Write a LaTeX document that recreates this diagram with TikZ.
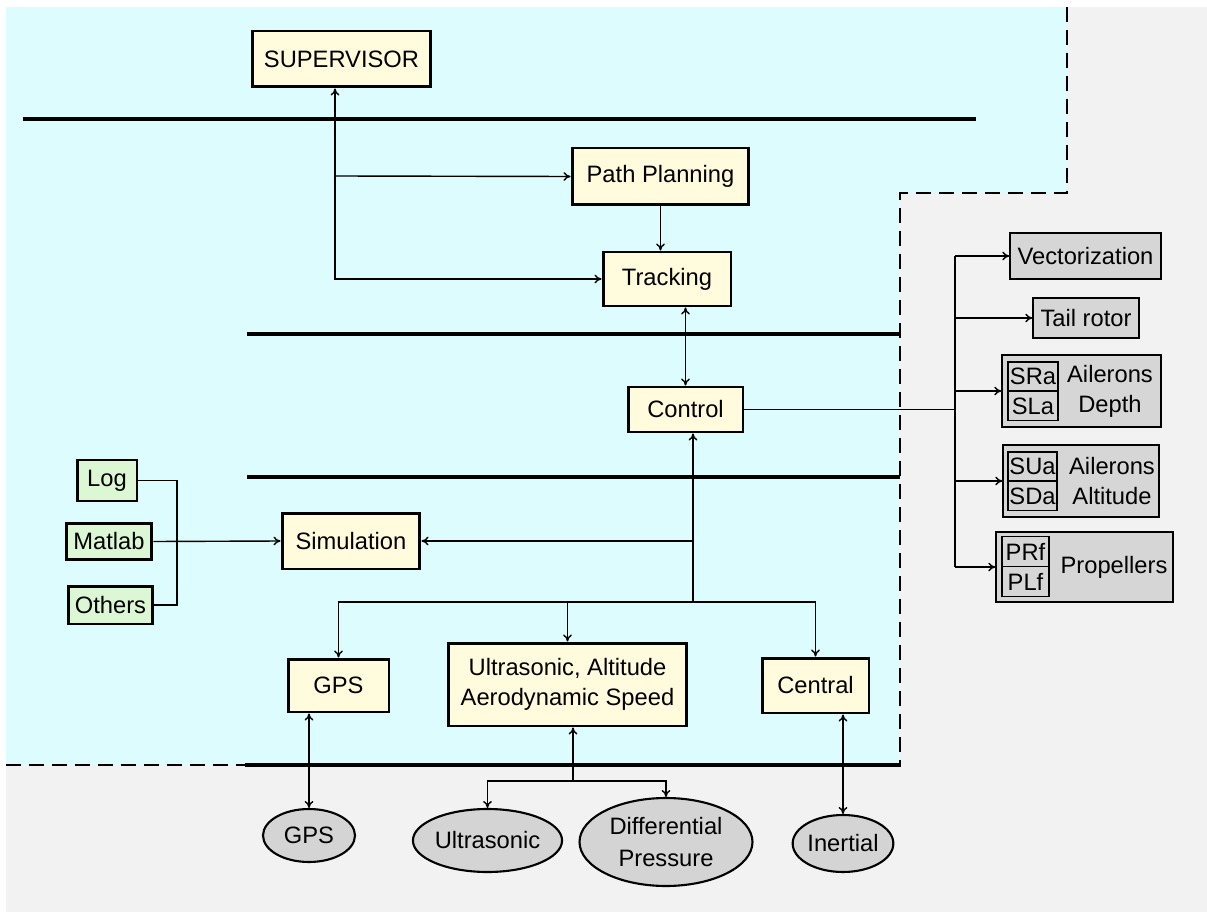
\documentclass[tikz,border=0pt]{standalone}
\usepackage{fontspec}
\setmainfont{Liberation Sans}
\usetikzlibrary{shapes.geometric, arrows.meta, calc}
\definecolor{skycyan}{RGB}{221,252,253}
\definecolor{outgray}{RGB}{242,242,242}
\definecolor{boxcream}{RGB}{255,251,220}
\definecolor{boxgreen}{RGB}{219,247,212}
\definecolor{actgray}{RGB}{214,214,214}
\definecolor{sensgray}{RGB}{212,212,212}

\begin{document}
\begin{tikzpicture}[
  x=0.02cm, y=-0.02cm,
  font=\fontsize{13.5}{17}\selectfont,
  >={To[length=4pt,width=5pt]},
  lay/.style={draw, line width=1.7pt, fill=boxcream, inner sep=0pt, align=center},
  ext/.style={draw, line width=1.7pt, fill=boxgreen, inner sep=0pt},
  act/.style={draw, line width=0.8pt, fill=actgray, inner sep=0pt},
  cell/.style={draw, line width=0.8pt, inner sep=0pt, minimum width=1cm, minimum height=0.58cm},
  sens/.style={ellipse, draw, line width=1.2pt, fill=sensgray, inner sep=0pt, align=center},
  bus/.style={line width=2.8pt},
  wire/.style={line width=0.8pt},
  zone/.style={dash pattern=on 0.3cm off 0.16cm, line width=1.1pt}
]
  \useasboundingbox (0,0) rectangle (1207,912);
  \fill[white] (0,0) rectangle (1207,912);
  \fill[outgray] (6,7) rectangle (1207,912);
  \fill[skycyan] (6,7) -- (1067,7) -- (1067,193) -- (900,193) -- (900,765) -- (6,765) -- cycle;
  \draw[zone] (1067,7) -- (1067,193) -- (900,193) -- (900,765);
  \draw[zone] (6,765) -- (245,765);

  \draw[bus] (23,119) -- (976,119);
  \draw[bus] (247,334) -- (900,334);
  \draw[bus] (247,477) -- (900,477);
  \draw[bus] (245,765) -- (901,765);

  \node[lay, minimum width=3.58cm, minimum height=1.12cm] (sup) at (341.5,59) {SUPERVISOR};
  \node[lay, minimum width=3.54cm, minimum height=1.14cm] (pp) at (660.5,176.5) {Path Planning};
  \node[lay, minimum width=2.56cm, minimum height=1.08cm] (track) at (667,279) {Tracking};
  \node[lay, minimum width=2.30cm, minimum height=0.90cm] (ctrl) at (685.5,409.5) {Control};
  \node[lay, minimum width=2.76cm, minimum height=1.12cm] (sim) at (351,541) {Simulation};
  \node[lay, minimum width=2.02cm, minimum height=1.06cm] (gpsbox) at (338.5,685.5) {GPS};
  \node[lay, minimum width=4.78cm, minimum height=1.66cm] (usbox) at (567.5,684.5) {Ultrasonic, Altitude\\Aerodynamic Speed};
  \node[lay, minimum width=2.14cm, minimum height=1.10cm] (central) at (815.5,685.5) {Central};

  \node[ext, minimum width=1.20cm, minimum height=0.82cm] (log) at (107,480.5) {Log};
  \node[ext, minimum width=1.72cm, minimum height=0.72cm] (matlab) at (109,541.5) {Matlab};
  \node[ext, minimum width=1.70cm, minimum height=0.76cm] (others) at (110.5,605) {Others};

  \node[act, minimum width=3.02cm, minimum height=0.92cm] (vec) at (1085.5,256) {Vectorization};
  \node[act, minimum width=2.12cm, minimum height=0.80cm] (tail) at (1086,318) {Tail rotor};
  \node[act, minimum width=3.18cm, minimum height=1.44cm] (sr) at (1081.5,391) {};
  \node[cell] (sra) at (1033,376.5) {SRa};
  \node[cell] (sla) at (1033,406) {SLa};
  \node[align=center, inner sep=0pt] (srtxt) at (1110,391) {Ailerons\\Depth};
  \node[act, minimum width=3.12cm, minimum height=1.44cm] (su) at (1081,481) {};
  \node[cell, minimum width=0.98cm] (sua) at (1032.5,466.5) {SUa};
  \node[cell, minimum width=0.98cm] (sda) at (1032.5,496) {SDa};
  \node[align=center, inner sep=0pt] (sutxt) at (1112,481) {Ailerons\\Altitude};
  \node[act, minimum width=3.54cm, minimum height=1.40cm] (pr) at (1084.5,567) {};
  \node[cell, minimum width=0.94cm, minimum height=0.60cm] (prf) at (1025.5,551.5) {PRf};
  \node[cell, minimum width=0.94cm, minimum height=0.60cm] (plf) at (1025.5,581.5) {PLf};
  \node[inner sep=0pt] (prtxt) at (1114,567) {Propellers};

  \node[sens, minimum width=1.84cm, minimum height=1.06cm] (gpsel) at (309,835.5) {GPS};
  \node[sens, minimum width=2.82cm, minimum height=1.26cm] (usel) at (487.5,840.5) {Ultrasonic};
  \node[sens, minimum width=3.46cm, minimum height=1.76cm, font=\fontsize{13.5}{18}\selectfont] (dpel) at (666,842) {Differential\\Pressure};
  \node[sens, minimum width=2.00cm, minimum height=1.14cm] (inel) at (843,843.5) {Inertial};

  \coordinate (supj) at (335,176);
  \draw[wire,<->] (sup.south -| supj) |- (track.west);
  \draw[wire,->] (supj) -- (pp.west);
  \draw[wire,->] (pp.south) -- (pp.south |- track.north);
  \draw[wire,<->] (ctrl.north) -- (ctrl.north |- track.south);

  \coordinate (actbus) at (955,408);
  \draw[wire] (ctrl.east) -- (ctrl.east -| actbus);
  \draw[wire] (actbus |- vec.west) -- (actbus |- pr.west);
  \foreach \a in {vec, tail, sr, su, pr}
    \draw[wire,->] (actbus |- \a.west) -- (\a.west);

  \coordinate (hub) at (693,602);
  \draw[wire,->] (hub) -- (hub |- ctrl.south);
  \draw[wire,->] (hub |- sim.east) -- (sim.east);
  \draw[wire,->] (hub) -| (gpsbox.north);
  \draw[wire,->] (hub) -| (usbox.north);
  \draw[wire,->] (hub) -| (central.north);

  \coordinate (extj) at (177,541);
  \draw[wire] (log.east) -| (extj) |- (others.east);
  \draw[wire,->] (matlab.east) -- (sim.west);

  \draw[wire,<->] (gpsel.north) -- (gpsel.north |- gpsbox.south);
  \coordinate (usj) at (573,781);
  \draw[wire,->] (usj) -- (usj |- usbox.south);
  \draw[wire,->] (usj) -| (usel.north);
  \draw[wire,->] (usj) -| (dpel.north);
  \draw[wire,<->] (inel.north) -- (inel.north |- central.south);
\end{tikzpicture}
\end{document}
